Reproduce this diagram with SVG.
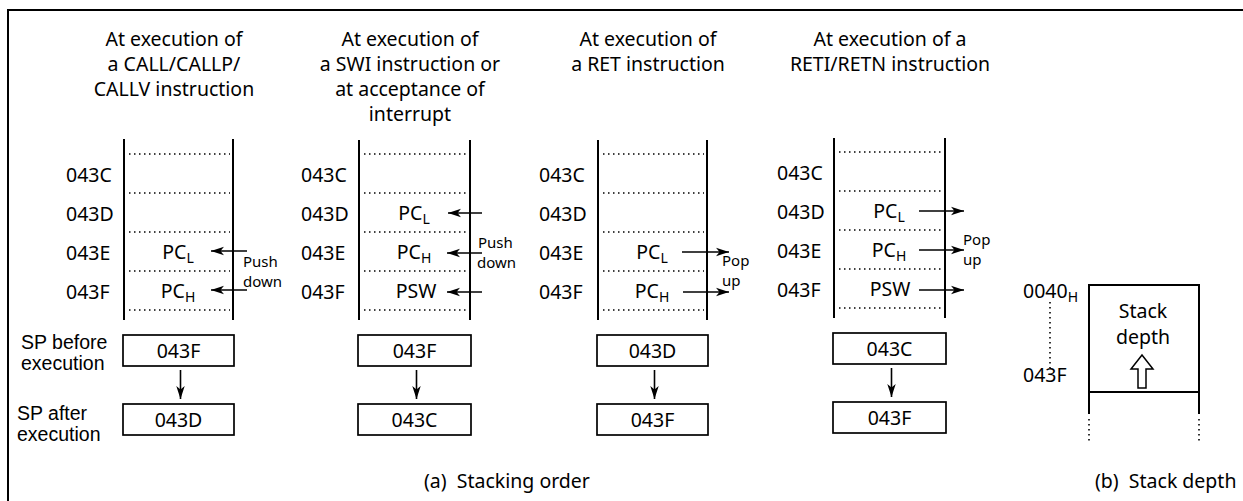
<svg xmlns="http://www.w3.org/2000/svg" width="1243" height="501" viewBox="0 0 1243 501">
<style>
text{font-family:"Noto Sans","DejaVu Sans",sans-serif;fill:#000}
.t{font-size:19.5px}
.c{text-anchor:middle}
.s{font-size:15px}
.lb{font-family:"Liberation Sans",Arial,sans-serif;font-size:19.5px}
.sub{font-size:14px}
.ln{stroke:#000;stroke-width:2;fill:none}
.dot{stroke:#000;stroke-width:1.6;stroke-dasharray:1.5 3.5;fill:none}
.box{stroke:#000;stroke-width:1.7;fill:#fff}
.arr{stroke:#000;stroke-width:1.6;fill:none;marker-end:url(#ah)}
</style>
<defs>
<marker id="ah" markerWidth="14" markerHeight="10" refX="13" refY="5" orient="auto" markerUnits="userSpaceOnUse">
<path d="M0,0.8 L13,5 L0,9.2 L3.5,5 Z" fill="#000"/>
</marker>
</defs>
<rect width="1243" height="501" fill="#fff"/>
<g id="frame">
<path class="ln" d="M8,501 V10 H1243"/>
</g>

<!-- Column 1 -->
<g id="col1">
<text class="t c"><tspan x="174" y="46">At execution of</tspan><tspan x="174" y="71">a CALL/CALLP/</tspan><tspan x="174" y="96">CALLV instruction</tspan></text>
<path class="ln" d="M124,139 V320 M233,139 V320"/>
<path class="dot" d="M129,154 H230 M129,193 H230 M129,232 H230 M129,271 H230 M129,310 H230"/>
<text class="t" x="66" y="182">043C</text>
<text class="t" x="66" y="221">043D</text>
<text class="t" x="66" y="260">043E</text>
<text class="t" x="66" y="299">043F</text>
<text class="t c" x="178" y="259">PC<tspan class="sub" dy="4">L</tspan></text>
<text class="t c" x="178" y="298">PC<tspan class="sub" dy="4">H</tspan></text>
<text class="s"><tspan x="243" y="267">Push</tspan><tspan x="243" y="287">down</tspan></text>
</g>
<g id="sp1">
<text class="lb"><tspan x="21" y="349">SP before</tspan><tspan x="21" y="370">execution</tspan></text>
<rect class="box" x="123" y="335" width="111" height="31"/>
<text class="t c" x="178.5" y="358">043F</text>
</g>
<g id="sp1b">
<text class="lb"><tspan x="17" y="420">SP after</tspan><tspan x="17" y="441">execution</tspan></text>
<rect class="box" x="123" y="404" width="111" height="31"/>
<text class="t c" x="178.5" y="427">043D</text>
</g>

<!-- Column 2 -->
<g id="col2">
<text class="t c"><tspan x="410" y="46">At execution of</tspan><tspan x="410" y="71">a SWI instruction or</tspan><tspan x="410" y="96">at acceptance of</tspan><tspan x="410" y="121">interrupt</tspan></text>
<path class="ln" d="M359,140 V320 M470,140 V320"/>
<path class="dot" d="M364,154 H466 M364,193 H466 M364,232 H466 M364,271 H466 M364,310 H466"/>
<text class="t" x="301" y="182">043C</text>
<text class="t" x="301" y="221">043D</text>
<text class="t" x="301" y="260">043E</text>
<text class="t" x="301" y="299">043F</text>
<text class="t c" x="414" y="220">PC<tspan class="sub" dy="4">L</tspan></text>
<text class="t c" x="414" y="259">PC<tspan class="sub" dy="4">H</tspan></text>
<text class="t c" x="416" y="298">PSW</text>
<text class="s"><tspan x="478" y="248">Push</tspan><tspan x="477" y="268">down</tspan></text>
</g>
<g id="sp2">
<rect class="box" x="358" y="335" width="113" height="31"/>
<text class="t c" x="414.5" y="358">043F</text>
</g>
<g id="sp2b">
<rect class="box" x="358" y="404" width="113" height="31"/>
<text class="t c" x="414.5" y="427">043C</text>
</g>

<!-- Column 3 -->
<g id="col3">
<text class="t c"><tspan x="648" y="46">At execution of</tspan><tspan x="648" y="71">a RET instruction</tspan></text>
<path class="ln" d="M598,140 V320 M707,140 V320"/>
<path class="dot" d="M603,154 H704 M603,193 H704 M603,232 H704 M603,271 H704 M603,310 H704"/>
<text class="t" x="539" y="182">043C</text>
<text class="t" x="539" y="221">043D</text>
<text class="t" x="539" y="260">043E</text>
<text class="t" x="539" y="299">043F</text>
<text class="t c" x="652" y="259">PC<tspan class="sub" dy="4">L</tspan></text>
<text class="t c" x="652" y="298">PC<tspan class="sub" dy="4">H</tspan></text>
<text class="s"><tspan x="722" y="266">Pop</tspan><tspan x="722" y="286">up</tspan></text>
</g>
<g id="sp3">
<rect class="box" x="597" y="335" width="111" height="31"/>
<text class="t c" x="652.5" y="358">043D</text>
</g>
<g id="sp3b">
<rect class="box" x="597" y="404" width="111" height="31"/>
<text class="t c" x="652.5" y="427">043F</text>
</g>

<!-- Column 4 -->
<g id="col4">
<text class="t c"><tspan x="890" y="46">At execution of a</tspan><tspan x="890" y="71">RETI/RETN instruction</tspan></text>
<path class="ln" d="M834,138 V318 M945,138 V318"/>
<path class="dot" d="M839,152 H941 M839,191 H941 M839,230 H941 M839,269 H941 M839,308 H941"/>
<text class="t" x="777" y="180">043C</text>
<text class="t" x="777" y="219">043D</text>
<text class="t" x="777" y="258">043E</text>
<text class="t" x="777" y="297">043F</text>
<text class="t c" x="889" y="218">PC<tspan class="sub" dy="4">L</tspan></text>
<text class="t c" x="889" y="257">PC<tspan class="sub" dy="4">H</tspan></text>
<text class="t c" x="890" y="296">PSW</text>
<text class="s"><tspan x="963" y="245">Pop</tspan><tspan x="963" y="265">up</tspan></text>
</g>
<g id="sp4">
<rect class="box" x="833" y="333" width="113" height="31"/>
<text class="t c" x="889.5" y="356">043C</text>
</g>
<g id="sp4b">
<rect class="box" x="833" y="402" width="113" height="31"/>
<text class="t c" x="889.5" y="425">043F</text>
</g>

<!-- Stack depth -->
<g id="depth">
<path class="ln" d="M1089,414 V285 H1199 V414 M1089,392 H1199"/>
<path class="dot" d="M1089,419 V442 M1199,419 V442 M1050,302 V368"/>
<text class="t" x="1023" y="298">0040<tspan class="sub" dy="4">H</tspan></text>
<text class="t" x="1023" y="382">043F</text>
<text class="t c"><tspan x="1143" y="318">Stack</tspan><tspan x="1143" y="344">depth</tspan></text>
<polygon points="1142,355 1153,369 1146,369 1146,388 1138,388 1138,369 1131,369" fill="#fff" stroke="#000" stroke-width="1.5"/>
</g>

<g id="captions">
<text class="t" x="424" y="488" xml:space="preserve">(a)  Stacking order</text>
<text class="t" x="1095" y="488" xml:space="preserve">(b)  Stack depth</text>
</g>

<g id="connectors">
<path class="arr" d="M247,251 H211"/>
<path class="arr" d="M247,290 H211"/>
<path class="arr" d="M482,213 H448"/>
<path class="arr" d="M482,253 H447"/>
<path class="arr" d="M482,292 H447"/>
<path class="arr" d="M682,252 H729"/>
<path class="arr" d="M683,292 H729"/>
<path class="arr" d="M919,211 H964"/>
<path class="arr" d="M919,250 H964"/>
<path class="arr" d="M919,290 H964"/>
<path class="arr" d="M180.5,370 V399"/>
<path class="arr" d="M416.5,370 V399"/>
<path class="arr" d="M654.5,370 V399"/>
<path class="arr" d="M891.5,368 V397"/>
</g>
</svg>
